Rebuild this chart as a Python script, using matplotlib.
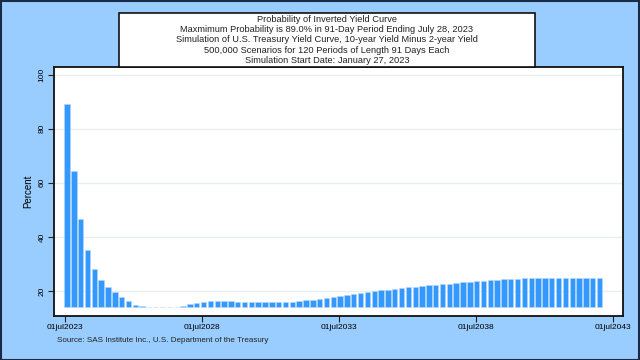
import pandas as pd
import numpy as np
import matplotlib
matplotlib.use('Agg')
import matplotlib.pyplot as plt
from matplotlib.patches import Rectangle

# --- data: probability of inverted curve per 91-day period ---
sim_start = pd.Timestamp('2023-01-27')
period_days = 91
probability = [
    89.0, 64.4, 46.5, 35.0, 28.0, 24.0, 21.4, 19.5, 17.8, 16.3,
    14.9, 14.4, 14.03, 14.0, 14.0, 14.03, 14.15, 14.6, 15.1, 15.6,
    16.0, 16.2, 16.2, 16.2, 16.2, 16.1, 16.0, 15.95, 15.85, 15.8,
    15.8, 15.9, 15.95, 16.05, 16.3, 16.55, 16.8, 17.05, 17.3, 17.65,
    18.1, 18.5, 18.8, 19.15, 19.5, 19.85, 20.2, 20.55, 20.85, 21.1,
    21.35, 21.65, 21.9, 22.1, 22.3, 22.5, 22.7, 22.95, 23.2, 23.45,
    23.7, 23.85, 24.05, 24.2, 24.3, 24.45, 24.55, 24.65, 24.7, 24.7,
    24.7, 24.7, 24.7, 24.7, 24.7, 24.7, 24.7, 24.65, 24.65,
]
y_ticks = [20, 40, 60, 80, 100]
x_tick_dates = ['2023-07-01', '2028-07-01', '2033-07-01', '2038-07-01', '2043-07-01']
x_tick_labels = ['01jul2023', '01jul2028', '01jul2033', '01jul2038', '01jul2043']
bar_base = 14.0

title_lines = [
    'Probability of Inverted Yield Curve',
    'Maxmimum Probability is 89.0% in 91-Day Period Ending July 28, 2023',
    'Simulation of U.S. Treasury Yield Curve, 10-year Yield Minus 2-year Yield',
    '500,000 Scenarios for 120 Periods of Length 91 Days Each',
    'Simulation Start Date: January 27, 2023',
]
source_text = 'Source: SAS Institute Inc., U.S. Department of the Treasury'

# period end dates: first plotted period ends July 28, 2023
period_end = [sim_start + pd.Timedelta(days=period_days * (k + 2)) for k in range(len(probability))]
heights = np.array(probability) - bar_base

plt.rcParams['font.family'] = ['Liberation Sans', 'DejaVu Sans']
bg = '#99ccff'

fig = plt.figure(figsize=(6.4, 3.6), dpi=100)
fig.patch.set_facecolor(bg)

W, H = 640.0, 360.0
ax = fig.add_axes([54 / W, 1 - 316 / H, (623.3 - 54) / W, (316 - 67.3) / H])
ax.set_facecolor('white')

ax.bar(period_end, heights, bottom=bar_base, width=72, color='#3399ff',
       edgecolor='#b5d7ff', linewidth=0.4, zorder=3)

ax.set_ylim(10.76, 102.7)
ax.set_xlim(pd.Timestamp('2023-02-04'), pd.Timestamp('2043-11-15'))
ax.set_yticks(y_ticks)
ax.set_yticklabels([str(v) for v in y_ticks], rotation=90, va='center', fontsize=6)
ax.set_xticks([pd.Timestamp(d) for d in x_tick_dates])
ax.set_xticklabels(x_tick_labels, fontsize=6)
ax.tick_params(axis='both', length=4, width=0.8, color='#222222', pad=2)
ax.grid(axis='y', color='#e6efef', linewidth=1.0, zorder=0)
ax.set_axisbelow(True)
ax.set_ylabel('Percent', fontsize=7, labelpad=4)
for sp in ax.spines.values():
    sp.set_linewidth(1.3)
    sp.set_color('#111111')

# title box
box = Rectangle((119 / W, 1 - 66.7 / H), (535 - 119) / W, (66.7 - 12.7) / H,
                transform=fig.transFigure, facecolor='white', edgecolor='#111111',
                linewidth=1.2, zorder=5)
fig.patches.append(box)
fig.text(327 / W, 1 - 40 / H, '\n'.join(title_lines), ha='center', va='center',
         fontsize=6.7, linespacing=1.2, color='#222222', zorder=6)

fig.text(57 / W, 1 - 341 / H, source_text, ha='left', va='center', fontsize=5.8, color='#222222')

# outer frame of the figure
frame = Rectangle((0.5 / W, 0.5 / H), (W - 1.5) / W, (H - 1.5) / H, transform=fig.transFigure,
                  facecolor='none', edgecolor='#1c2b45', linewidth=1.5, zorder=10)
fig.patches.append(frame)

fig.savefig('out.png', dpi=100, facecolor=fig.get_facecolor())
